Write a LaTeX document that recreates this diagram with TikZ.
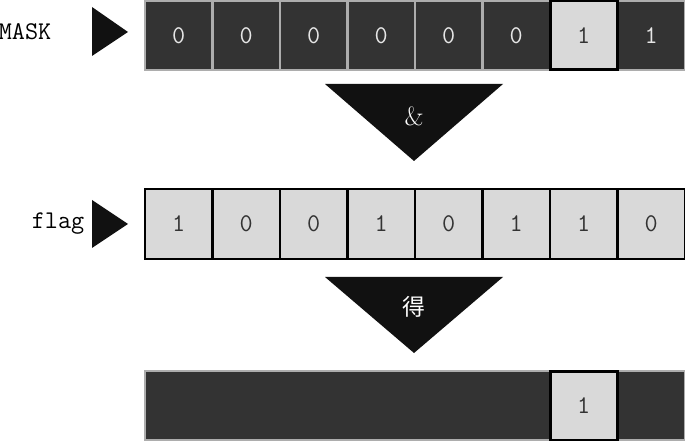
\documentclass[tikz,border=0pt]{standalone}
\usepackage{fontspec}
\newfontfamily\cjk{Noto Sans CJK SC}
\definecolor{darkfill}{HTML}{333333}
\definecolor{darkedge}{HTML}{ADADAD}
\definecolor{darktext}{HTML}{E6E6E6}
\definecolor{lightfill}{HTML}{D9D9D9}
\definecolor{lighttext}{HTML}{333333}
\definecolor{pointerfill}{HTML}{111111}
\begin{document}
\begin{tikzpicture}[x=0.02cm,y=-0.02cm,
  dark cell/.style={rectangle,draw=darkedge,fill=darkfill,line width=1.2pt,minimum width=1.35cm,minimum height=1.38cm,inner sep=0pt,text=darktext,font=\ttfamily\fontsize{14.5}{16}\selectfont},
  light cell/.style={dark cell,draw=black,fill=lightfill,text=lighttext,minimum height=1.4cm},
  hit cell/.style={light cell,line width=1.7pt,minimum height=1.38cm},
  side label/.style={font=\ttfamily\fontsize{14.5}{16}\selectfont},
  op label/.style={text=white,font=\fontsize{15}{17}\selectfont}]
  \useasboundingbox (0,0) rectangle (685,445);

  % MASK row
  \node[side label] (mask) at (25,32) {MASK};
  \fill[pointerfill] (92,7) -- (128,32) -- (92,56) -- cycle;
  \node[dark cell] (m1) at (178.75,35.5) {0};
  \node[dark cell] (m2) at (246.25,35.5) {0};
  \node[dark cell] (m3) at (313.75,35.5) {0};
  \node[dark cell] (m4) at (381.25,35.5) {0};
  \node[dark cell] (m5) at (448.75,35.5) {0};
  \node[dark cell] (m6) at (516.25,35.5) {0};
  \node[dark cell] (m8) at (651.25,35.5) {1};
  \node[hit cell] (m7) at (583.75,35.5) {1};

  % &
  \fill[pointerfill] (325,84) -- (503,84) -- (414,161) -- cycle;
  \node[op label] (and) at (414,116) {\&};

  % flag row
  \node[side label] (flag) at (58,224) {flag};
  \fill[pointerfill] (92,200) -- (128,224) -- (92,248) -- cycle;
  \node[light cell] (f1) at (178.75,224) {1};
  \node[light cell] (f2) at (246.25,224) {0};
  \node[light cell] (f3) at (313.75,224) {0};
  \node[light cell] (f4) at (381.25,224) {1};
  \node[light cell] (f5) at (448.75,224) {0};
  \node[light cell] (f6) at (516.25,224) {1};
  \node[light cell] (f7) at (583.75,224) {1};
  \node[light cell] (f8) at (651.25,224) {0};

  % result
  \fill[pointerfill] (325,277) -- (503,277) -- (414,353) -- cycle;
  \node[op label] (get) at (414,307) {\cjk\fontsize{13}{15}\selectfont 得};
  \node[dark cell,minimum width=10.8cm] (r) at (415,405.5) {};
  \node[hit cell] (r7) at (583.75,405.5) {1};
\end{tikzpicture}
\end{document}
